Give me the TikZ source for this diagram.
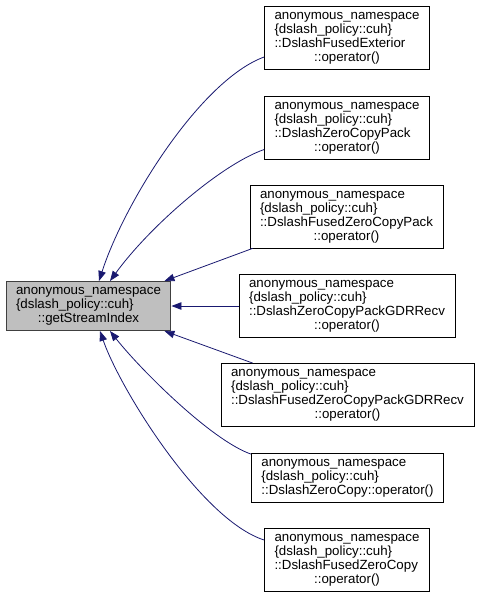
\documentclass[tikz,border=0pt]{standalone}
\usepackage{fontspec}
\setmainfont{Liberation Sans}
\usetikzlibrary{arrows.meta}
\definecolor{edgeblue}{RGB}{25,25,112}
\definecolor{mainfill}{RGB}{191,191,191}
\definecolor{mainline}{RGB}{64,64,64}
\newcommand{\lastrow}[1]{\multicolumn{1}{@{}c@{}}{#1}}
\newcommand{\fnlabel}[1]{\begin{tabular}{@{}l@{}}anonymous\_namespace\\\{dslash\_policy::cuh\}#1\end{tabular}}
\begin{document}
\begin{tikzpicture}[
		x=1pt, y=1pt,
		every node/.style={font=\fontsize{13.3}{14}\selectfont},
		fnbox/.style={draw=black, line width=0.8pt, fill=white, inner xsep=10pt, inner ysep=3.5pt},
		mainbox/.style={fnbox, draw=mainline, fill=mainfill, line width=1pt},
		calledge/.style={draw=edgeblue, line width=0.8pt, -{Triangle[length=10pt,width=7.5pt]}}
	]
	\useasboundingbox (0,0) rectangle (480,-599);
	\node[mainbox] (main) at (88.5,-306) {\fnlabel{\\\lastrow{::getStreamIndex}}};
	\node[fnbox] (n1) at (347,-38) {\fnlabel{\\::DslashFusedExterior\\\lastrow{::operator()}}};
	\node[fnbox] (n2) at (347,-127.5) {\fnlabel{\\::DslashZeroCopyPack\\\lastrow{::operator()}}};
	\node[fnbox] (n3) at (346.5,-216.5) {\fnlabel{\\::DslashFusedZeroCopyPack\\\lastrow{::operator()}}};
	\node[fnbox] (n4) at (347,-306) {\fnlabel{\\::DslashZeroCopyPackGDRRecv\\\lastrow{::operator()}}};
	\node[fnbox] (n5) at (347.5,-395) {\fnlabel{\\::DslashFusedZeroCopyPackGDRRecv\\\lastrow{::operator()}}};
	\node[fnbox] (n6) at (347.5,-478) {\fnlabel{\\::DslashZeroCopy::operator()}};
	\node[fnbox] (n7) at (347,-560) {\fnlabel{\\::DslashFusedZeroCopy\\\lastrow{::operator()}}};
	% calls into getStreamIndex
	\draw[calledge] ([yshift=-19pt]n1.west) .. controls +(-63,-23) and +(26,80) .. ([xshift=10.5pt]main.north);
	\draw[calledge] ([yshift=-22pt]n2.west) .. controls +(-43,-15) and +(40,55) .. ([xshift=21.5pt]main.north);
	\draw[calledge] ([xshift=3pt]n3.south west) -- ([xshift=-7pt]main.north east);
	\draw[calledge] (n4.west) -- (main.east);
	\draw[calledge] ([xshift=32pt]n5.north west) -- ([xshift=-7pt]main.south east);
	\draw[calledge] ([yshift=-1pt]n6.north west) .. controls +(-40,14) and +(30,-38) .. ([xshift=21.5pt]main.south);
	\draw[calledge] ([yshift=20pt]n7.west) .. controls +(-63,20) and +(20,-58) .. ([xshift=11.5pt]main.south);
\end{tikzpicture}
\end{document}
